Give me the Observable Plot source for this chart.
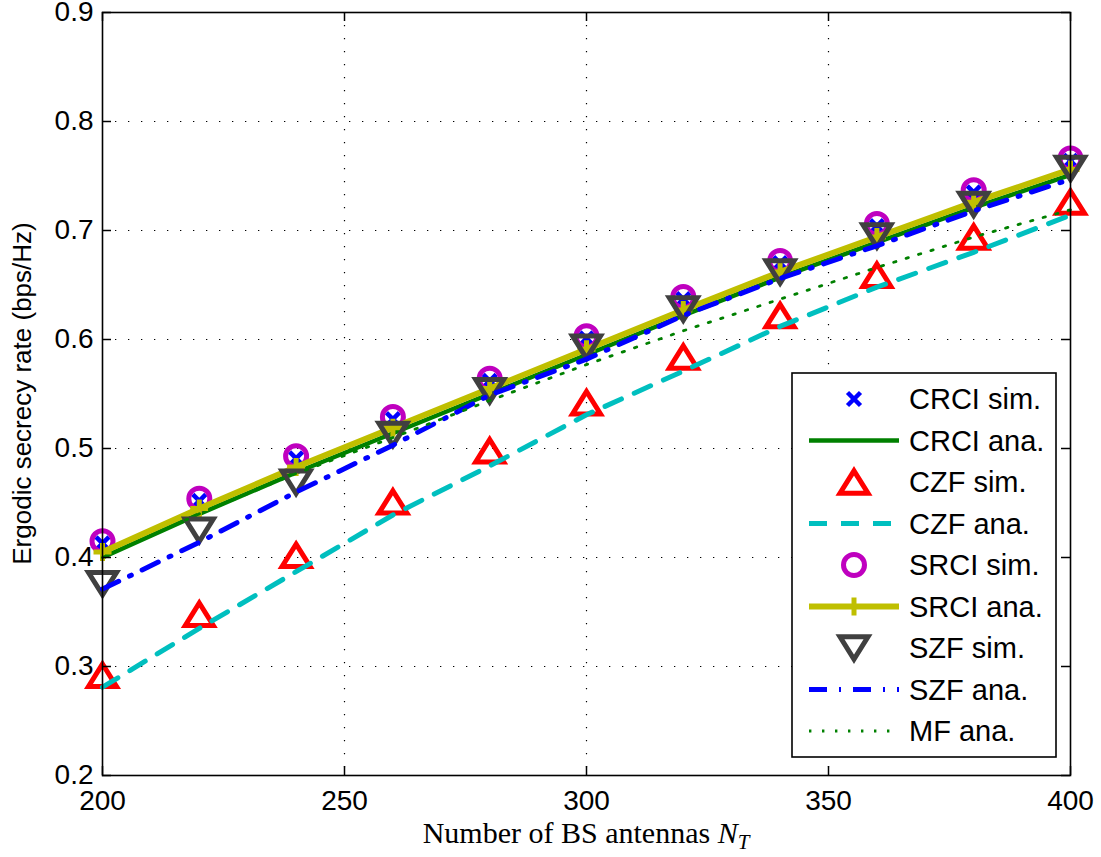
<!DOCTYPE html>
<html><head><meta charset="utf-8">
<script src="https://cdn.jsdelivr.net/npm/d3@7"></script>
<script src="https://cdn.jsdelivr.net/npm/@observablehq/plot@0.6"></script>
<style>body{margin:0;background:#fff}</style>
</head><body><div id="chart"></div>
<script>
// ---- data ----
const nt      = [200, 220, 240, 260, 280, 300, 320, 340, 360, 380, 400];
const crciSim = [0.413, 0.452, 0.491, 0.527, 0.562, 0.601, 0.637, 0.670, 0.704, 0.735, 0.764];
const crciAna = [0.400, 0.440, 0.478, 0.514, 0.550, 0.586, 0.622, 0.657, 0.689, 0.721, 0.751];
const czfSim  = [0.292, 0.348, 0.402, 0.451, 0.498, 0.542, 0.584, 0.622, 0.659, 0.694, 0.726];
const czfAna  = [0.281, 0.335, 0.387, 0.439, 0.484, 0.531, 0.571, 0.612, 0.648, 0.680, 0.714];
const srciSim = [0.415, 0.454, 0.493, 0.529, 0.564, 0.603, 0.639, 0.672, 0.706, 0.737, 0.766];
const srciAna = [0.405, 0.445, 0.483, 0.519, 0.555, 0.591, 0.627, 0.662, 0.694, 0.726, 0.756];
const szfSim  = [0.376, 0.425, 0.469, 0.513, 0.553, 0.593, 0.628, 0.662, 0.695, 0.724, 0.757];
const szfAna  = [0.371, 0.414, 0.460, 0.503, 0.549, 0.582, 0.622, 0.656, 0.686, 0.718, 0.747];
const mfAna   = [0.400, 0.440, 0.477, 0.510, 0.544, 0.577, 0.608, 0.637, 0.666, 0.694, 0.719];
const xTicks = [200, 250, 300, 350, 400];
const yTicks = [0.2, 0.3, 0.4, 0.5, 0.6, 0.7, 0.8, 0.9];
const legendLabels = ["CRCI sim.", "CRCI ana.", "CZF sim.", "CZF ana.", "SRCI sim.", "SRCI ana.", "SZF sim.", "SZF ana.", "MF ana."];

// ---- custom marker symbols (size = pi r^2) ----
const sym = fn => ({draw(c, size) { fn(c, Math.sqrt(size / Math.PI)); }});
const triUp = sym((c, r) => { const h = r * 0.8; c.moveTo(0, -h); c.lineTo(r, h); c.lineTo(-r, h); c.closePath(); });
const triDown = sym((c, r) => { const h = r * 0.8; c.moveTo(0, h); c.lineTo(r, -h); c.lineTo(-r, -h); c.closePath(); });
const xMark = sym((c, r) => { c.moveTo(-r, -r); c.lineTo(r, r); c.moveTo(r, -r); c.lineTo(-r, r); });
const plusMark = sym((c, r) => { c.moveTo(0, -r); c.lineTo(0, r); c.moveTo(-r, 0); c.lineTo(r, 0); });
const circ = sym((c, r) => { c.moveTo(r, 0); c.arc(0, 0, r, 0, 2 * Math.PI); });

const table = vals => nt.map((x, i) => ({x, y: vals[i]}));

const W = 1101, H = 857, ML = 102, MR = 31, MT = 12, MB = 82;
const FW = W - ML - MR, FH = H - MT - MB;

const S = {
  crciSim: {symbol: xMark, r: 6.5, stroke: "#0000ff", strokeWidth: 4.5},
  crciAna: {stroke: "#008000", strokeWidth: 4.5},
  czfSim: {symbol: triUp, r: 14, stroke: "#ff0000", strokeWidth: 5},
  czfAna: {stroke: "#00bfbf", strokeWidth: 5, strokeDasharray: "18,14"},
  srciSim: {symbol: circ, r: 10.5, stroke: "#bf00bf", strokeWidth: 5},
  srciAna: {stroke: "#bfbf00", strokeWidth: 6},
  srciPlus: {symbol: plusMark, r: 9, stroke: "#bfbf00", strokeWidth: 5},
  szfSim: {symbol: triDown, r: 14, stroke: "#404040", strokeWidth: 5},
  szfAna: {stroke: "#0000ff", strokeWidth: 5, strokeDasharray: "18,12,2,12"},
  mfAna: {stroke: "#008000", strokeWidth: 2.8, strokeDasharray: "2.4,10.6"}
};

const grid = {stroke: "#000", strokeOpacity: 1, strokeWidth: 1.2, strokeDasharray: "1.3,11.7"};

const plot = Plot.plot({
  width: W, height: H,
  marginLeft: ML, marginRight: MR, marginTop: MT, marginBottom: MB,
  style: {fontFamily: "'Liberation Sans', Arial, Helvetica, sans-serif", fontSize: "28px", color: "#000", background: "#fff", overflow: "visible"},
  x: {domain: [200, 400], label: null},
  y: {domain: [0.2, 0.9], label: null},
  marks: [
    Plot.gridX([250, 300, 350], grid),
    Plot.gridY([0.3, 0.4, 0.5, 0.6, 0.7, 0.8], grid),
    Plot.dot(table(crciSim), {x: "x", y: "y", ...S.crciSim}),
    Plot.line(table(crciAna), {x: "x", y: "y", ...S.crciAna}),
    Plot.dot(table(czfSim), {x: "x", y: "y", fill: "none", ...S.czfSim}),
    Plot.line(table(czfAna), {x: "x", y: "y", ...S.czfAna}),
    Plot.dot(table(srciSim), {x: "x", y: "y", fill: "none", ...S.srciSim}),
    Plot.line(table(srciAna), {x: "x", y: "y", ...S.srciAna}),
    Plot.dot(table(srciAna), {x: "x", y: "y", ...S.srciPlus}),
    Plot.dot(table(szfSim), {x: "x", y: "y", fill: "none", ...S.szfSim}),
    Plot.line(table(szfAna), {x: "x", y: "y", ...S.szfAna}),
    Plot.line(table(mfAna), {x: "x", y: "y", ...S.mfAna}),
    // inward ticks on all four sides
    Plot.tickX(xTicks, {x: d => d, stroke: "#000", strokeWidth: 1.5, insetTop: FH - 9}),
    Plot.tickX(xTicks, {x: d => d, stroke: "#000", strokeWidth: 1.5, insetBottom: FH - 9}),
    Plot.tickY(yTicks, {y: d => d, stroke: "#000", strokeWidth: 1.5, insetRight: FW - 9}),
    Plot.tickY(yTicks, {y: d => d, stroke: "#000", strokeWidth: 1.5, insetLeft: FW - 9}),
    Plot.frame({stroke: "#000", strokeWidth: 1.6}),
    Plot.axisX(xTicks, {tickSize: 0, tickPadding: 15, tickFormat: d => String(d)}),
    Plot.axisY(yTicks, {tickSize: 0, tickPadding: 9, tickFormat: d3.format(".1f")})
  ]
});
document.getElementById("chart").appendChild(plot);

const svg = d3.select(plot);
// axis titles
svg.append("text")
  .attr("transform", `translate(31,${MT + FH / 2}) rotate(-90)`)
  .attr("text-anchor", "middle")
  .style("font-family", "'Liberation Sans', Arial, sans-serif")
  .style("font-size", "26px").attr("fill", "#000")
  .text("Ergodic secrecy rate (bps/Hz)");
const xl = svg.append("text")
  .attr("x", ML + FW / 2).attr("y", 843)
  .attr("text-anchor", "middle")
  .style("font-family", "'Liberation Serif', 'DejaVu Serif', serif")
  .style("font-size", "30px").attr("fill", "#000");
xl.append("tspan").text("Number of BS antennas ");
xl.append("tspan").attr("font-style", "italic").text("N");
xl.append("tspan").attr("font-style", "italic").style("font-size", "21px").attr("dy", 6).text("T");

// legend
const lg = svg.append("g");
lg.append("rect").attr("x", 792).attr("y", 373).attr("width", 264).attr("height", 384)
  .attr("fill", "#fff").attr("stroke", "#000").attr("stroke-width", 1.6);
const entries = [
  {marker: S.crciSim},
  {line: S.crciAna},
  {marker: S.czfSim},
  {line: S.czfAna},
  {marker: S.srciSim},
  {line: S.srciAna, marker: S.srciPlus},
  {marker: S.szfSim},
  {line: S.szfAna},
  {line: S.mfAna}
];
entries.forEach((e, i) => {
  const cy = 399 + i * 41.5;
  if (e.line) {
    lg.append("line").attr("x1", 809).attr("x2", 899).attr("y1", cy).attr("y2", cy)
      .attr("stroke", e.line.stroke).attr("stroke-width", e.line.strokeWidth)
      .attr("stroke-dasharray", e.line.strokeDasharray || null);
  }
  if (e.marker) {
    lg.append("path").attr("transform", `translate(854,${cy})`)
      .attr("d", d3.symbol(e.marker.symbol, Math.PI * e.marker.r * e.marker.r)())
      .attr("fill", "none").attr("stroke", e.marker.stroke).attr("stroke-width", e.marker.strokeWidth);
  }
  lg.append("text").attr("x", 909).attr("y", cy).attr("dy", "0.35em")
    .attr("text-anchor", "start")
    .style("font-family", "'Liberation Sans', Arial, sans-serif").style("font-size", "29px")
    .attr("fill", "#000").text(legendLabels[i]);
});
</script>
</body></html>
